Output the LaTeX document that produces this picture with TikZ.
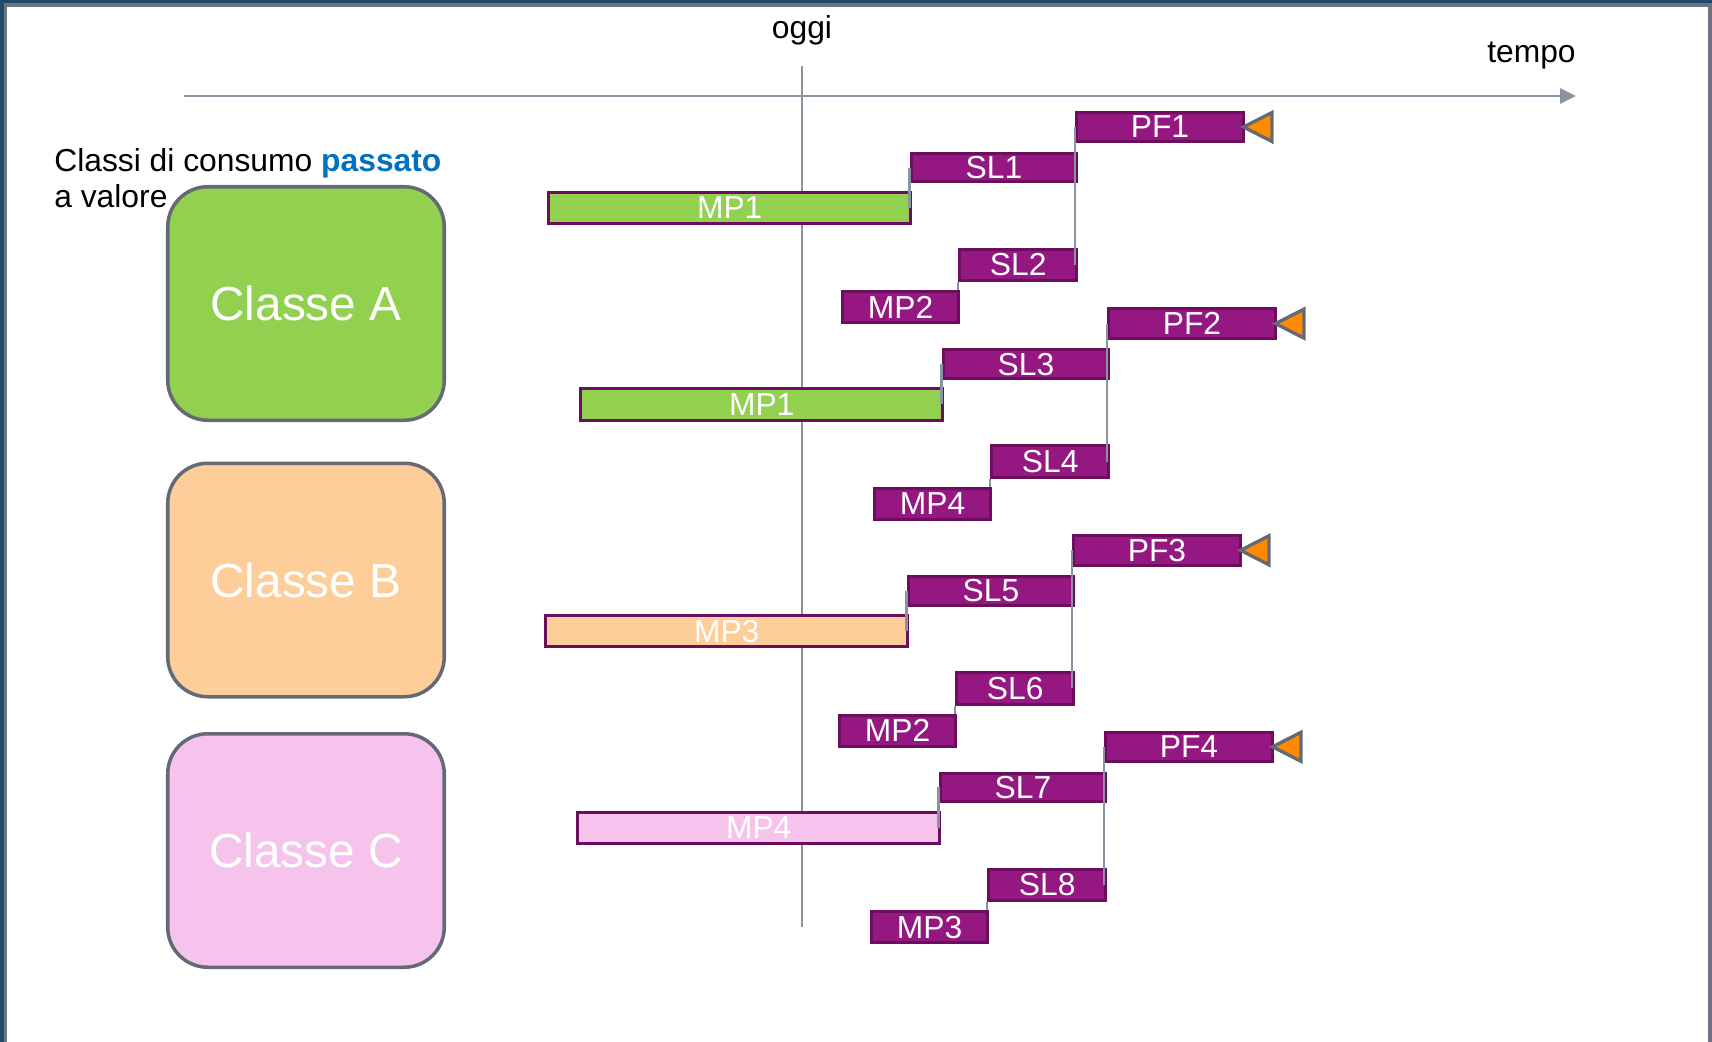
\documentclass[tikz,border=0pt]{standalone}
\usepackage{fontspec}
\setmainfont{Liberation Sans}
\usetikzlibrary{arrows.meta}

\definecolor{viola}{HTML}{951781}
\definecolor{violascuro}{HTML}{6B0E5D}
\definecolor{verde}{HTML}{92D050}
\definecolor{pesca}{HTML}{FDCD9A}
\definecolor{rosa}{HTML}{F6C3EC}
\definecolor{grigio}{HTML}{8A94A1}
\definecolor{bordo}{HTML}{646A75}
\definecolor{arancio}{HTML}{FF8A00}
\definecolor{blu}{HTML}{0070C0}
\definecolor{cornice}{HTML}{1F4B6C}
\definecolor{cornicegr}{HTML}{707282}

\newcommand\lblfont{\fontsize{18.1pt}{21pt}\selectfont}
\newcommand\classfont{\fontsize{27.2pt}{31pt}\selectfont}

\tikzset{
  box/.style={draw=violascuro, fill=viola, line width=1.7pt, inner sep=0pt,
              text=white, font=\lblfont},
  barverde/.style={box, fill=verde},
  barpesca/.style={box, fill=pesca},
  barrosa/.style={box, fill=rosa},
  link/.style={draw=grigio, line width=1.4pt},
  flag/.style={fill=arancio, draw=bordo, line width=1.9pt},
  classe/.style={draw=bordo, line width=2pt, rounded corners=0.8cm, inner sep=0pt,
                 text=white, font=\classfont,
                 minimum width={(280-3.5)*0.02cm}, minimum height={(237-3.5)*0.02cm}},
  lbl/.style={font=\lblfont, inner sep=0pt},
  asse/.style={draw=grigio, line width=1.5pt},
}

% box given by its outer corners (x1,y1) (x2,y2)
\newcommand\bx[7]{%
  \node[#1, minimum width={(#5-#3-3)*0.02cm}, minimum height={(#6-#4-3)*0.02cm}]
    (#2) at ({(#3+#5)/2},{(#4+#6)/2}) {#7};}

% one chain: id, shift x, shift y, PF, upper SL, long bar, bar style, lower SL, lower MP
\newcommand\catena[9]{%
  \begin{scope}[shift={(#2,#3)}]
    \bx{box}{pf#1}{1075}{110.7}{1245}{143.3}{#4}
    \bx{box}{sla#1}{909.6}{151.7}{1078.3}{183.3}{#5}
    \bx{#7}{bar#1}{547.4}{190.7}{912}{225}{#6}
    \bx{box}{slb#1}{958}{247.7}{1078.3}{282.3}{#8}
    \bx{box}{mp#1}{841}{290.3}{960.3}{324.3}{#9}
    \draw[link] (sla#1.west) -- (sla#1.west |- bar#1.east);
    \draw[link] (pf#1.west) -- (pf#1.west |- slb#1.east);
    \draw[link] (slb#1.south west) -- (slb#1.south west |- mp#1.north);
    \filldraw[flag] ([xshift=-0.03cm]pf#1.east) -- ++(28.5,-14.5) -- ++(0,29) -- cycle;
  \end{scope}}

\begin{document}
\begin{tikzpicture}[x=0.02cm, y=-0.02cm]
  \useasboundingbox (0,0) rectangle (1712,1042);

  % frame
  \fill[cornicegr] (0,0) rectangle (1712,7);
  \fill[cornicegr] (0,0) rectangle (7,1042);
  \fill[cornicegr] (1708,0) rectangle (1712,1042);
  \fill[cornice] (0,0) rectangle (1712,3);
  \fill[cornice] (0,0) rectangle (4,1042);

  % time axis and today line
  \coordinate (asse0) at (184,96);
  \coordinate (asse1) at (1576,96);
  \coordinate (oggi0) at (802,66);
  \coordinate (oggi1) at (802,927);
  \draw[asse, -{Triangle[length=9pt,width=8.5pt]}] (asse0) -- (asse1);
  \draw[asse] (oggi0) -- (oggi1);

  \node[lbl, anchor=base] (oggi) at (802,38) {oggi};
  \node[lbl, anchor=base east] (tempo) at (1576,62) {tempo};
  \node[lbl, anchor=base west] (titolo) at (54,171)
    {Classi di consumo \textcolor{blu}{\bfseries passato}};
  \node[lbl, anchor=base west] (titolo2) at (54,207) {a valore};

  % consumption classes
  \node[classe, fill=verde] (classeA) at (306,303.5) {Classe A};
  \node[classe, fill=pesca] (classeB) at (306,580) {Classe B};
  \node[classe, fill=rosa]  (classeC) at (306,850.5) {Classe C};

  % chains
  \catena{1}{0}{0}{PF1}{SL1}{MP1}{barverde}{SL2}{MP2}
  \catena{2}{32}{196.6}{PF2}{SL3}{MP1}{barverde}{SL4}{MP4}
  \catena{3}{-3}{423.3}{PF3}{SL5}{MP3}{barpesca}{SL6}{MP2}
  \catena{4}{29}{619.8}{PF4}{SL7}{MP4}{barrosa}{SL8}{MP3}
\end{tikzpicture}
\end{document}
